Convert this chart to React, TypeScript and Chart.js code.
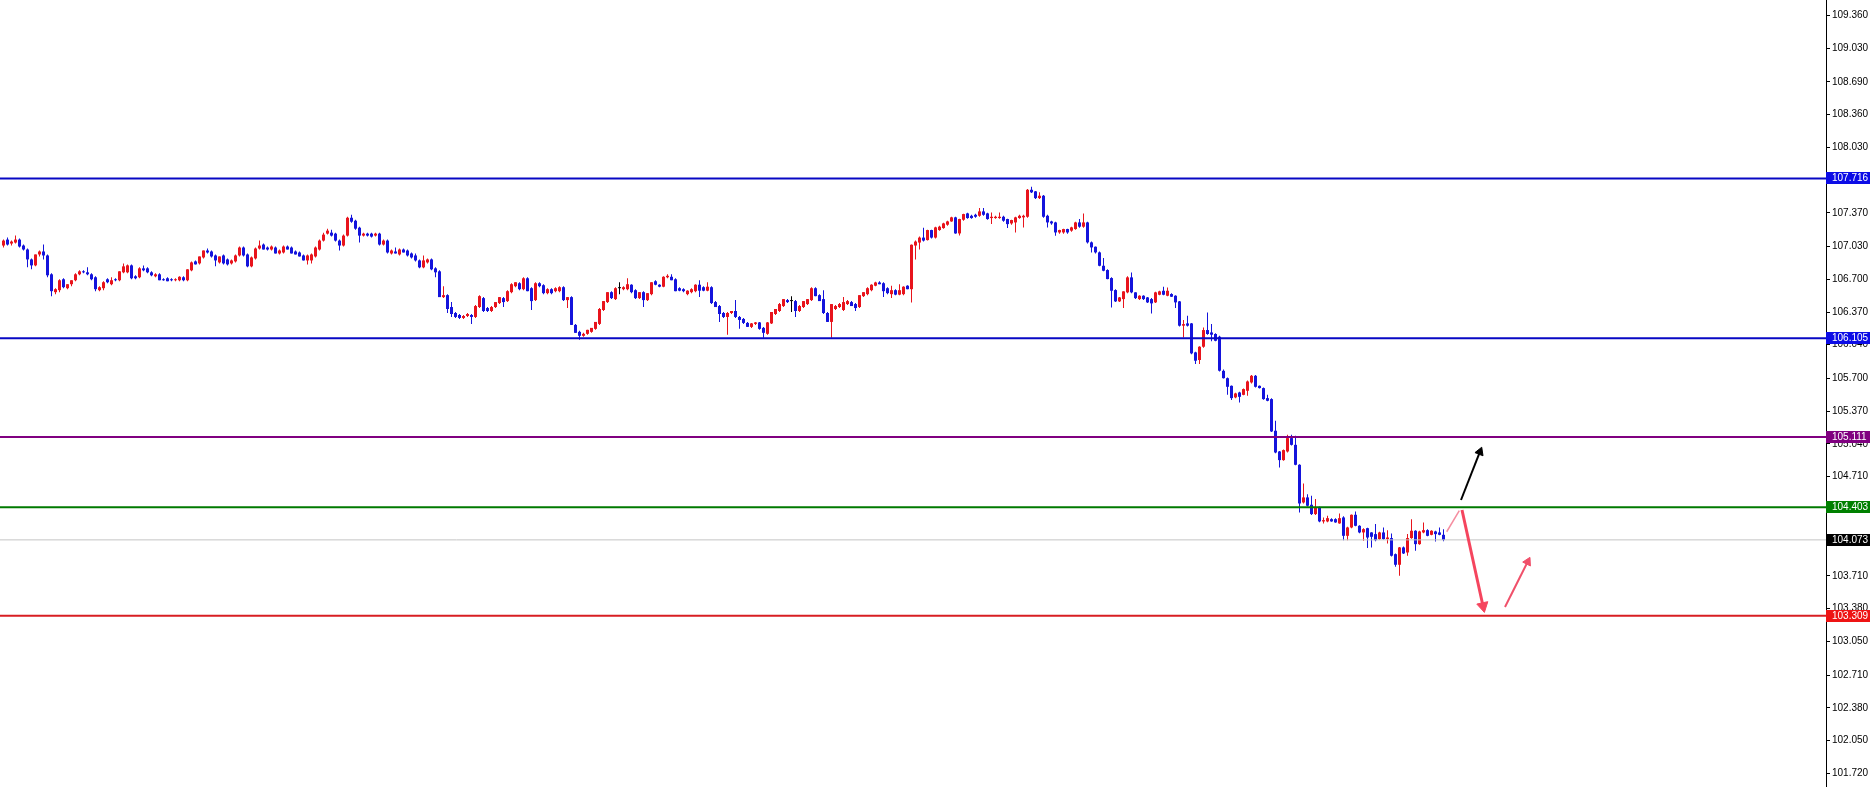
import React, { useEffect, useRef } from 'react';
import { Chart, registerables } from 'chart.js';

Chart.register(...registerables);

// ---- candle data ----
const opens = [
  107.04,107.10,107.06,107.07,107.10,107.04,107.00,106.90,106.84,106.95,
  106.98,106.94,106.75,106.57,106.59,106.70,106.61,106.65,106.69,106.75,
  106.78,106.77,106.75,106.72,106.59,106.61,106.70,106.65,106.70,106.69,
  106.77,106.77,106.84,106.73,106.72,106.81,106.81,106.77,106.73,106.75,
  106.70,106.71,106.70,106.69,106.69,106.72,106.69,106.79,106.88,106.86,
  106.92,106.99,106.98,106.94,106.87,106.94,106.90,106.86,106.88,106.94,
  107.02,106.95,106.83,106.91,107.01,107.05,107.02,107.00,107.02,106.96,
  106.97,107.03,107.02,106.98,106.97,106.94,106.89,106.89,106.93,107.00,
  107.09,107.16,107.17,107.16,107.09,107.04,107.14,107.32,107.29,107.22,
  107.14,107.16,107.16,107.14,107.16,107.05,107.09,106.96,106.98,106.95,
  107.00,106.99,106.96,106.94,106.89,106.82,106.87,106.90,106.81,106.78,
  106.52,106.54,106.42,106.36,106.34,106.31,106.33,106.34,106.32,106.42,
  106.51,106.41,106.38,106.42,106.46,106.51,106.48,106.57,106.63,106.66,
  106.60,106.71,106.61,106.49,106.66,106.64,106.56,106.60,106.58,106.58,
  106.62,106.49,106.52,106.24,106.17,106.13,106.15,106.17,106.20,106.25,
  106.39,106.47,106.57,106.50,106.61,106.60,106.60,106.645,106.59,106.51,
  106.57,106.49,106.55,106.68,106.645,106.625,106.72,106.725,106.70,106.61,
  106.60,106.55,106.57,106.58,106.645,106.62,106.585,106.62,106.47,106.43,
  106.36,106.32,106.36,106.38,106.32,106.30,106.26,106.22,106.25,106.265,
  106.21,106.15,106.255,106.35,106.38,106.43,106.49,106.48,106.48,106.38,
  106.42,106.45,106.49,106.61,106.54,106.50,106.36,106.27,106.40,106.42,
  106.39,106.45,106.47,106.45,106.42,106.53,106.55,106.59,106.635,106.668,
  106.66,106.61,106.55,106.59,106.545,106.55,106.635,106.60,107.04,107.07,
  107.12,107.095,107.196,107.12,107.196,107.216,107.25,107.283,107.324,107.162,
  107.30,107.364,107.34,107.35,107.34,107.384,107.364,107.317,107.317,107.317,
  107.33,107.307,107.263,107.273,107.317,107.324,107.33,107.602,107.586,107.518,
  107.542,107.34,107.283,107.273,107.172,107.172,107.206,107.19,107.206,107.273,
  107.23,107.273,107.072,107.028,106.971,106.836,106.793,106.712,106.591,106.477,
  106.50,106.568,106.719,106.568,106.50,106.534,106.517,106.50,106.467,106.544,
  106.584,106.534,106.551,106.534,106.477,106.232,106.255,106.255,105.963,105.886,
  106.02,106.188,106.164,106.148,106.121,105.777,105.703,105.626,105.509,105.559,
  105.535,105.576,105.66,105.727,105.626,105.603,105.502,105.492,105.173,104.964,
  104.877,104.964,105.099,105.031,104.83,104.45,104.501,104.427,104.333,104.40,
  104.259,104.259,104.282,104.282,104.239,104.299,104.114,104.198,104.326,104.215,
  104.148,104.191,104.148,104.131,104.081,104.148,104.081,104.091,103.929,103.822,
  103.997,103.946,104.091,104.165,104.03,104.148,104.171,104.124,104.158,104.148,
  104.124
];
const highs = [
  107.10,107.12,107.09,107.14,107.11,107.05,107.01,106.91,106.95,106.99,
  107.05,106.95,106.76,106.61,106.70,106.71,106.65,106.69,106.76,106.79,
  106.79,106.82,106.76,106.73,106.63,106.68,106.71,106.72,106.71,106.78,
  106.86,106.85,106.85,106.74,106.82,106.84,106.82,106.78,106.76,106.76,
  106.71,106.72,106.71,106.71,106.73,106.73,106.80,106.88,106.89,106.93,
  106.99,107.01,106.99,106.95,106.93,106.95,106.91,106.90,106.95,107.03,
  107.03,106.96,106.93,107.02,107.09,107.06,107.03,107.04,107.03,107.00,
  107.04,107.04,107.03,106.99,106.98,106.95,106.95,106.96,107.03,107.10,
  107.17,107.21,107.20,107.17,107.10,107.15,107.33,107.35,107.30,107.23,
  107.17,107.17,107.17,107.17,107.17,107.10,107.10,107.00,107.02,107.01,
  107.01,107.00,106.97,106.96,106.90,106.94,106.91,106.91,106.82,106.79,
  106.63,106.55,106.47,106.37,106.35,106.34,106.36,106.35,106.44,106.54,
  106.52,106.42,106.43,106.47,106.52,106.52,106.59,106.66,106.67,106.67,
  106.72,106.72,106.62,106.67,106.67,106.65,106.61,106.61,106.62,106.63,
  106.63,106.52,106.53,106.25,106.18,106.16,106.19,106.21,106.27,106.41,
  106.48,106.57,106.58,106.62,106.67,106.63,106.71,106.65,106.60,106.57,
  106.58,106.56,106.67,106.69,106.65,106.73,106.75,106.75,106.71,106.62,
  106.61,106.59,106.61,106.65,106.69,106.63,106.67,106.63,106.48,106.44,
  106.37,106.37,106.38,106.49,106.33,106.31,106.27,106.26,106.27,106.27,
  106.22,106.27,106.37,106.40,106.46,106.50,106.50,106.53,106.49,106.44,
  106.48,106.50,106.62,106.62,106.55,106.59,106.37,106.45,106.44,106.46,
  106.52,106.49,106.48,106.46,106.54,106.57,106.62,106.65,106.675,106.68,
  106.67,106.62,106.635,106.60,106.65,106.63,106.64,107.05,107.09,107.13,
  107.22,107.20,107.20,107.23,107.24,107.27,107.29,107.33,107.33,107.31,
  107.36,107.37,107.35,107.36,107.418,107.418,107.37,107.374,107.34,107.374,
  107.34,107.31,107.30,107.33,107.35,107.35,107.61,107.633,107.59,107.576,
  107.55,107.35,107.29,107.28,107.20,107.21,107.21,107.23,107.28,107.307,
  107.364,107.28,107.08,107.03,106.98,106.914,106.80,106.72,106.60,106.52,
  106.58,106.73,106.769,106.57,106.54,106.54,106.52,106.51,106.575,106.585,
  106.625,106.618,106.56,106.54,106.48,106.289,106.332,106.26,105.97,106.025,
  106.215,106.366,106.248,106.155,106.13,105.79,105.71,105.63,105.555,105.565,
  105.60,105.68,105.735,105.735,105.63,105.61,105.535,105.50,105.273,104.97,
  104.985,105.132,105.132,105.122,104.835,104.642,104.534,104.517,104.484,104.41,
  104.299,104.316,104.29,104.29,104.34,104.31,104.205,104.33,104.36,104.22,
  104.19,104.195,104.15,104.232,104.155,104.198,104.171,104.138,103.935,104.00,
  104.005,104.131,104.282,104.17,104.165,104.249,104.18,104.17,104.165,104.198,
  104.181
];
const lows = [
  107.02,107.04,107.04,107.06,107.02,106.99,106.82,106.80,106.83,106.93,
  106.90,106.72,106.53,106.55,106.57,106.61,106.60,106.63,106.68,106.74,
  106.76,106.74,106.69,106.58,106.58,106.59,106.66,106.64,106.68,106.68,
  106.76,106.76,106.70,106.70,106.71,106.78,106.76,106.73,106.72,106.69,
  106.685,106.68,106.68,106.68,106.68,106.68,106.68,106.78,106.85,106.85,
  106.91,106.96,106.92,106.83,106.86,106.85,106.84,106.85,106.87,106.93,
  106.93,106.82,106.82,106.90,107.00,107.00,106.99,106.99,106.96,106.95,
  106.96,107.00,106.96,106.95,106.93,106.89,106.85,106.86,106.92,106.99,
  107.08,107.15,107.13,107.08,106.99,107.03,107.13,107.27,107.20,107.07,
  107.13,107.13,107.12,107.13,107.04,107.04,106.96,106.95,106.96,106.94,
  106.97,106.93,106.91,106.88,106.81,106.81,106.86,106.79,106.72,106.52,
  106.51,106.36,106.32,106.31,106.30,106.30,106.32,106.25,106.31,106.41,
  106.37,106.37,106.37,106.41,106.45,106.42,106.47,106.56,106.62,106.59,
  106.59,106.58,106.39,106.48,106.62,106.55,106.55,106.55,106.57,106.57,
  106.48,106.41,106.24,106.16,106.09,106.12,106.14,106.16,106.19,106.24,
  106.38,106.46,106.50,106.49,106.55,106.59,106.59,106.56,106.50,106.50,
  106.42,106.48,106.54,106.64,106.62,106.62,106.71,106.69,106.58,106.58,
  106.57,106.54,106.56,106.57,106.52,106.58,106.58,106.45,106.42,106.27,
  106.31,106.14,106.35,106.31,106.20,106.25,106.22,106.21,106.24,106.19,
  106.11,106.14,106.25,106.34,106.37,106.42,106.46,106.37,106.32,106.37,
  106.41,106.44,106.48,106.53,106.48,106.35,106.27,106.11,106.39,106.41,
  106.38,106.44,106.43,106.38,106.41,106.52,106.54,106.58,106.63,106.65,
  106.52,106.55,106.51,106.54,106.54,106.54,106.60,106.465,106.90,107.00,
  107.08,107.09,107.11,107.11,107.19,107.21,107.24,107.28,107.16,107.14,
  107.29,107.31,107.31,107.32,107.33,107.34,107.30,107.256,107.31,107.31,
  107.28,107.216,107.25,107.172,107.31,107.223,107.32,107.57,107.51,107.51,
  107.32,107.223,107.25,107.139,107.16,107.16,107.16,107.18,107.20,107.22,
  107.22,107.06,106.971,106.96,106.83,106.78,106.70,106.416,106.47,106.47,
  106.41,106.56,106.56,106.50,106.49,106.49,106.46,106.356,106.46,106.54,
  106.54,106.53,106.52,106.41,106.225,106.114,106.225,105.945,105.845,105.845,
  106.01,106.14,106.074,106.075,105.77,105.70,105.535,105.482,105.50,105.458,
  105.53,105.525,105.65,105.61,105.60,105.485,105.47,105.16,104.945,104.803,
  104.87,104.955,105.025,104.825,104.349,104.44,104.41,104.325,104.325,104.25,
  104.239,104.25,104.255,104.245,104.235,104.07,104.07,104.19,104.21,104.14,
  104.064,103.99,103.997,104.06,104.075,104.075,104.037,103.905,103.801,103.711,
  103.93,103.913,104.085,103.963,104.025,104.14,104.11,104.12,104.057,104.12,
  104.06
];
const closes = [
  107.09,107.05,107.08,107.10,107.03,107.00,106.90,106.84,106.95,106.98,
  106.94,106.74,106.58,106.60,106.69,106.62,106.65,106.69,106.75,106.78,
  106.77,106.75,106.70,106.60,106.62,106.67,106.67,106.69,106.69,106.78,
  106.83,106.84,106.71,106.71,106.81,106.79,106.77,106.74,106.75,106.69,
  106.69,106.68,106.69,106.70,106.725,106.69,106.80,106.87,106.85,106.93,
  106.99,106.97,106.93,106.89,106.93,106.86,106.85,106.89,106.94,107.02,
  106.94,106.83,106.92,107.01,107.04,107.00,107.00,107.03,106.96,106.99,
  107.03,107.00,106.96,106.95,106.93,106.89,106.94,106.95,107.02,107.09,
  107.15,107.19,107.14,107.09,107.04,107.14,107.32,107.28,107.21,107.14,
  107.16,107.14,107.13,107.16,107.05,107.09,106.97,106.99,106.96,107.00,
  106.97,106.94,106.92,106.89,106.82,106.89,106.90,106.80,106.77,106.52,
  106.54,106.40,106.35,106.32,106.31,106.33,106.35,106.32,106.43,106.53,
  106.38,106.38,106.42,106.47,106.52,106.47,106.58,106.65,106.67,106.60,
  106.71,106.58,106.48,106.66,106.63,106.56,106.60,106.56,106.61,106.62,
  106.49,106.52,106.24,106.16,106.13,106.15,106.19,106.21,106.27,106.40,
  106.48,106.57,106.51,106.61,106.61,106.62,106.65,106.57,106.51,106.57,
  106.49,106.56,106.67,106.645,106.625,106.725,106.735,106.69,106.58,106.585,
  106.58,106.585,106.60,106.645,106.585,106.585,106.625,106.46,106.42,106.35,
  106.32,106.36,106.38,106.32,106.29,106.26,106.22,106.255,106.265,106.20,
  106.16,106.265,106.37,106.40,106.45,106.50,106.47,106.48,106.38,106.43,
  106.48,106.50,106.61,106.53,106.48,106.36,106.27,106.45,106.43,106.45,
  106.47,106.48,106.43,106.41,106.54,106.57,106.61,106.645,106.668,106.65,
  106.58,106.56,106.59,106.545,106.59,106.625,106.60,107.048,107.08,107.12,
  107.09,107.196,107.12,107.223,107.23,107.263,107.283,107.324,107.162,107.307,
  107.357,107.317,107.317,107.33,107.384,107.35,107.307,107.33,107.33,107.33,
  107.29,107.256,107.297,107.324,107.34,107.34,107.602,107.576,107.518,107.542,
  107.33,107.273,107.263,107.172,107.196,107.206,107.172,107.223,107.273,107.23,
  107.273,107.072,107.021,106.971,106.836,106.786,106.702,106.584,106.477,106.517,
  106.578,106.719,106.568,106.51,106.534,106.50,106.467,106.457,106.568,106.578,
  106.544,106.584,106.524,106.467,106.232,106.248,106.232,105.953,105.879,106.02,
  106.188,106.148,106.141,106.08,105.778,105.703,105.616,105.502,105.549,105.515,
  105.593,105.67,105.727,105.616,105.603,105.492,105.475,105.166,104.954,104.877,
  104.978,105.099,105.031,104.83,104.44,104.501,104.417,104.333,104.40,104.259,
  104.272,104.292,104.259,104.249,104.292,104.114,104.198,104.326,104.215,104.148,
  104.181,104.097,104.104,104.07,104.148,104.081,104.097,103.913,103.822,103.997,
  103.936,104.091,104.165,104.03,104.158,104.171,104.114,104.165,104.131,104.124,
  104.073
];

// ---- price axis ticks ----
const yTicks = [
  109.36, 109.03, 108.69, 108.36, 108.03, 107.70, 107.37, 107.03, 106.70, 106.37,
  106.04, 105.70, 105.37, 105.04, 104.71, 104.38, 104.05, 103.71, 103.38, 103.05,
  102.71, 102.38, 102.05, 101.72
];

// ---- horizontal levels ----
const levelValues = [107.716, 106.105, 105.111, 104.403, 104.073, 103.309];
const levelLineColors = ['#0808C4', '#0808C4', '#800080', '#007A00', '#C4C4C4', '#D81E22'];
const levelLineWidths = [2, 2, 2, 2, 1, 2];
const levelBoxColors = ['#0C0CE6', '#0C0CE6', '#800080', '#008000', '#000000', '#EE1414'];

// ---- projection arrows (x in candle index units, y in price) ----
const bridgeLeg = [{ x: 360.8, y: 104.155 }, { x: 363.95, y: 104.367 }];
const upArrow = [{ x: 364.375, y: 104.475 }, { x: 369.1, y: 104.96 }];
const downArrow = [{ x: 364.625, y: 104.374 }, { x: 369.875, y: 103.406 }];
const reboundArrow = [{ x: 375.375, y: 103.397 }, { x: 381.05, y: 103.852 }];

const BULL = '#E8141C';
const BEAR = '#1414DC';
const DOJI = '#000000';
const FONT = '"Liberation Sans", Arial, sans-serif';

const levelBoxes = {
  id: 'levelBoxes',
  afterDraw(chart: any) {
    const { ctx } = chart;
    const ys = chart.scales.y;
    ctx.save();
    ctx.font = `10px ${FONT}`;
    ctx.textBaseline = 'middle';
    levelValues.forEach((v, k) => {
      const y = ys.getPixelForValue(v);
      ctx.fillStyle = levelBoxColors[k];
      ctx.fillRect(ys.left, Math.round(y) - 6, 44, 12);
      ctx.fillStyle = '#FFFFFF';
      ctx.fillText(v.toFixed(3), ys.left + 6, Math.round(y) + 0.5);
    });
    ctx.restore();
  },
};

export default function App() {
  const ref = useRef<HTMLCanvasElement | null>(null);

  useEffect(() => {
    const prevMargin = document.body.style.margin;
    document.body.style.margin = '0';
    const canvas = ref.current;
    if (!canvas) return;

    const idx = closes.map((_, i) => i);
    const colors = idx.map((i) =>
      closes[i] > opens[i] ? BULL : closes[i] < opens[i] ? BEAR : DOJI
    );
    const xMin = -0.875;
    const xMax = 455.625;

    const levelSets = levelValues.map((v, k) => ({
      type: 'line' as const,
      data: [{ x: xMin, y: v }, { x: xMax, y: v }],
      borderColor: levelLineColors[k],
      borderWidth: levelLineWidths[k],
      pointRadius: 0,
      tension: 0,
      order: 1,
    }));

    const arrowSet = (pts: any[], color: string, width: number, head: number, rot: number) => ({
      type: 'line' as const,
      data: pts,
      borderColor: color,
      borderWidth: width,
      pointRadius: [0, head],
      pointStyle: 'triangle',
      pointRotation: [0, rot],
      pointBackgroundColor: color,
      pointBorderColor: color,
      pointBorderWidth: 1,
      tension: 0,
      order: 0,
    });

    const chart = new Chart(canvas, {
      type: 'bar',
      data: {
        datasets: [
          ...levelSets,
          arrowSet(bridgeLeg, '#F58DA0', 1.5, 0, 0),
          arrowSet(upArrow, '#000000', 2, 5, 21.5),
          arrowSet(downArrow, '#F5455E', 3, 6.5, 167.6),
          arrowSet(reboundArrow, '#F0506A', 2, 5, 26.9),
          {
            type: 'bar' as const,
            data: idx.map((i) => ({ x: i, y: [opens[i], closes[i]] })),
            backgroundColor: colors,
            barThickness: 3,
            grouped: false,
            minBarLength: 1,
            inflateAmount: 0,
            borderWidth: 0,
            order: 2,
          },
          {
            type: 'bar' as const,
            data: idx.map((i) => ({ x: i, y: [lows[i], highs[i]] })),
            backgroundColor: colors,
            barThickness: 1,
            grouped: false,
            inflateAmount: 0,
            borderWidth: 0,
            order: 3,
          },
        ] as any,
      },
      options: {
        animation: false,
        responsive: true,
        maintainAspectRatio: false,
        layout: { padding: 0, autoPadding: false },
        plugins: {
          legend: { display: false },
          tooltip: { enabled: false },
        },
        scales: {
          x: {
            type: 'linear',
            min: xMin,
            max: xMax,
            offset: false,
            display: false,
            grid: { display: false },
          },
          y: {
            type: 'linear',
            position: 'right',
            min: 101.582,
            max: 109.515,
            beginAtZero: false,
            afterBuildTicks: (s: any) => {
              s.ticks = yTicks.map((v) => ({ value: v }));
            },
            afterFit: (s: any) => {
              s.width = 48;
              s.paddingTop = 0;
              s.paddingBottom = 0;
            },
            ticks: {
              autoSkip: false,
              padding: 2,
              color: '#000000',
              font: { family: FONT, size: 10 },
              callback: (v: any) => Number(v).toFixed(3),
            },
            grid: {
              drawOnChartArea: false,
              drawTicks: true,
              tickLength: 4,
              color: '#000000',
              lineWidth: 1,
            },
            border: { display: true, color: '#000000', width: 1 },
          },
        },
      } as any,
      plugins: [levelBoxes],
    });

    return () => {
      chart.destroy();
      document.body.style.margin = prevMargin;
    };
  }, []);

  return (
    <div style={{ position: 'fixed', left: 0, top: 0, width: 1874, height: 787, background: '#ffffff' }}>
      <canvas ref={ref} />
    </div>
  );
}
